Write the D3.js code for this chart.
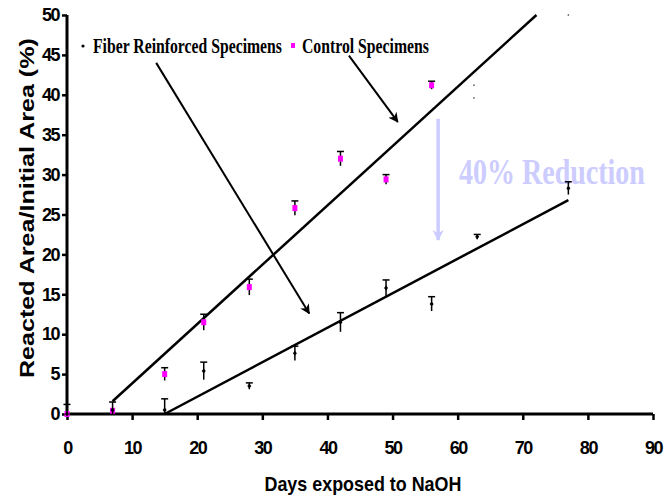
<!DOCTYPE html>
<html><head><meta charset="utf-8">
<script src="https://cdn.jsdelivr.net/npm/d3@7"></script>
<style>body{margin:0;background:#fff}svg{display:block}</style>
</head><body>
<svg id="c" width="665" height="497"></svg>
<script>
// ---- data ----
const fiberDays = [0, 7, 15, 21, 28, 35, 42, 49, 56, 63, 77];
const fiberVals = [0, 0.5, 0.5, 5.4, 3.5, 7.6, 11.5, 15.8, 13.8, 22.2, 28.3];
const fiberErr  = [1.2, 1.0, 1.4, 1.1, 0.4, 0.9, 1.2, 1.0, 0.9, 0.3, 0.8];
const controlDays = [0, 7, 15, 21, 28, 35, 42, 49, 56];
const controlVals = [0, 0.4, 5.0, 11.5, 15.9, 25.8, 32.0, 29.4, 41.2];
const controlErr  = [0, 0, 0.8, 1.0, 1.0, 0.9, 0.9, 0.6, 0.5];
const controlFit = [[7, 1.6], [72.1, 50]];
const fiberFit = [[15, 0], [77, 26.8]];
const strayPts = [[77, 50], [62.5, 41.2], [62.5, 39.6]];
const xTicks = [0, 10, 20, 30, 40, 50, 60, 70, 80, 90];
const yTicks = [0, 5, 10, 15, 20, 25, 30, 35, 40, 45, 50];
const arrows = [[[13.7, 44.0], [37.2, 12.6]], [[43.3, 44.9], [50.8, 36.6]]];
const reductionArrow = [[57.0, 37.0], [57.0, 21.8]];
const legendLabels = ["Fiber Reinforced Specimens", "Control Specimens"];

const svg = d3.select("#c");
const x = d3.scaleLinear().domain([0, 90]).range([67, 653]);
const y = d3.scaleLinear().domain([0, 50]).range([414, 15]);

const defs = svg.append("defs");
defs.append("marker").attr("id", "ah").attr("viewBox", "0 0 10 10")
  .attr("refX", 9).attr("refY", 5).attr("markerWidth", 5).attr("markerHeight", 5)
  .attr("orient", "auto").attr("markerUnits", "strokeWidth")
  .append("path").attr("d", "M0,0 L10,5 L0,10 L3,5 Z").attr("fill", "#000");
defs.append("marker").attr("id", "ah2").attr("viewBox", "0 0 10 10")
  .attr("refX", 9).attr("refY", 5).attr("markerWidth", 3.2).attr("markerHeight", 4)
  .attr("orient", "auto").attr("markerUnits", "strokeWidth")
  .append("path").attr("d", "M0,0 L10,5 L0,10 L3,5 Z").attr("fill", "#ccccff");

// condensed text helper: scales horizontally to a target width
function condensed(parent, x0, y0, txt, font, size, width, anchor, fill) {
  const g = parent.append("g").attr("transform", `translate(${x0},${y0})`);
  const t = g.append("text").attr("font-family", font).attr("font-weight", "bold")
    .attr("font-size", size).attr("fill", fill || "#000").text(txt);
  const w = t.node().getComputedTextLength();
  const s = width / w;
  const off = anchor === "middle" ? -width / 2 : 0;
  t.attr("transform", `translate(${off},0) scale(${s},1)`);
  return g;
}
const SANS = "Liberation Sans, Arial, sans-serif";
const SERIF = "Liberation Serif, Times New Roman, serif";

// axes
const xAxis = svg.append("g").attr("transform", `translate(0,${y(0)})`)
  .call(d3.axisBottom(x).tickValues(xTicks).tickSize(6).tickPadding(21));
const yAxis = svg.append("g").attr("transform", `translate(${x(0)},0)`)
  .call(d3.axisLeft(y).tickValues(yTicks).tickSize(5).tickPadding(3));
[xAxis, yAxis].forEach(g => {
  g.select(".domain").attr("stroke", "#000").attr("stroke-width", 3);
  g.selectAll(".tick line").attr("stroke", "#000").attr("stroke-width", 2.5);
  g.selectAll(".tick text").attr("font-family", SANS)
    .attr("font-weight", "bold").attr("font-size", 18).attr("fill", "#000")
    .attr("letter-spacing", -1.5);
});
xAxis.select(".domain").attr("d", `M${x(0)},0H${x(90)}`);
yAxis.select(".domain").attr("d", `M0,${y(50)}V${y(0)}`);

// axis titles
condensed(svg, 363, 491, "Days exposed to NaOH", SANS, 20, 197, "middle");
const yt = svg.append("g").attr("transform", "translate(34,208) rotate(-90)");
condensed(yt, 0, 0, "Reacted Area/Initial Area (%)", SANS, 20, 340, "middle");

// fit lines
const line = d3.line().x(d => x(d[0])).y(d => y(d[1]));
[controlFit, fiberFit].forEach(f => svg.append("path").attr("d", line(f))
  .attr("fill", "none").attr("stroke", "#000").attr("stroke-width", 2.5));

// annotation arrows
arrows.forEach(a => svg.append("path").attr("d", line(a)).attr("fill", "none")
  .attr("stroke", "#000").attr("stroke-width", 2).attr("marker-end", "url(#ah)"));
svg.append("path").attr("d", line(reductionArrow)).attr("fill", "none")
  .attr("stroke", "#ccccff").attr("stroke-width", 3.5).attr("marker-end", "url(#ah2)");
condensed(svg, 459, 184, "40% Reduction", SERIF, 35, 186, "start", "#ccccff");

// error bars
function errBars(days, vals, errs) {
  const g = svg.append("g").attr("stroke", "#000");
  days.forEach((d, i) => {
    if (!errs[i]) return;
    const cx = x(d), top = y(vals[i] + errs[i]), bot = y(Math.max(0, vals[i] - errs[i]));
    g.append("line").attr("x1", cx).attr("x2", cx).attr("y1", top).attr("y2", bot).attr("stroke-width", 1.5);
    g.append("line").attr("x1", cx - 3.5).attr("x2", cx + 3.5).attr("y1", top).attr("y2", top).attr("stroke-width", 1.5);
  });
}
errBars(controlDays, controlVals, controlErr);

// control points
svg.append("g").selectAll("rect").data(controlDays).join("rect")
  .attr("x", d => x(d) - 2.5).attr("y", (d, i) => y(controlVals[i]) - 3)
  .attr("width", 5).attr("height", 6).attr("fill", "#ff00ff");

errBars(fiberDays, fiberVals, fiberErr);
// fiber points
svg.append("g").selectAll("path").data(fiberDays).join("path")
  .attr("d", (d, i) => `M${x(d)},${y(fiberVals[i]) - 2.5}l2,2.5l-2,2.5l-2,-2.5z`)
  .attr("fill", "#000");

// stray tiny marks
svg.append("g").selectAll("rect").data(strayPts).join("rect")
  .attr("x", d => x(d[0]) - 0.7).attr("y", d => y(d[1]) - 0.7)
  .attr("width", 1.4).attr("height", 1.4).attr("fill", "#444");

// legend
svg.append("circle").attr("cx", 83).attr("cy", 46).attr("r", 1.6).attr("fill", "#000");
svg.append("rect").attr("x", 291).attr("y", 43).attr("width", 4).attr("height", 5).attr("fill", "#ff00ff");
const lg = [[93, 189], [302, 127]];
legendLabels.forEach((t, i) => condensed(svg, lg[i][0], 53, t, SERIF, 21, lg[i][1], "start"));
</script>
</body></html>
